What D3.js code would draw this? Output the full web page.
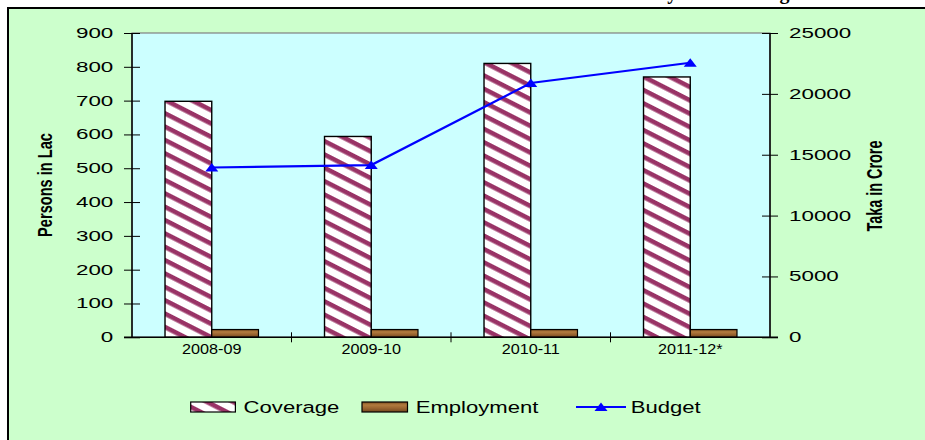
<!DOCTYPE html>
<html>
<head>
<meta charset="utf-8">
<script src="https://cdn.jsdelivr.net/npm/d3@7"></script>
<style>
  html, body { margin: 0; padding: 0; background: #ffffff; }
  svg { display: block; }
  text { font-family: "Liberation Sans", Arial, sans-serif; fill: #000; }
</style>
</head>
<body>
<svg id="chart" width="925" height="440"></svg>
<script>
// ---- data ----
const categories = ["2008-09", "2009-10", "2010-11", "2011-12*"];
const coverage = [698, 594, 810, 770];        // persons in lac
const employment = [23, 23, 23, 23];          // persons in lac
const budget = [13950, 14150, 20893, 22556];  // taka in crore
const leftTicks = [0, 100, 200, 300, 400, 500, 600, 700, 800, 900];
const rightTicks = [0, 5000, 10000, 15000, 20000, 25000];
const seriesNames = ["Coverage", "Employment", "Budget"];
const titleText = "Safety Net Coverage";

// ---- layout ----
const plot = { left: 132, right: 770, top: 33, bottom: 337.3 };
const svg = d3.select("#chart");

const x = d3.scaleBand().domain(categories).range([plot.left, plot.right]).padding(0);
const yL = d3.scaleLinear().domain([0, 900]).range([plot.bottom, plot.top]);
const yR = d3.scaleLinear().domain([0, 25000]).range([plot.bottom, plot.top]);
const barPad = x.bandwidth() * 0.207;
const barW = (x.bandwidth() - 2 * barPad) / 2;

// ---- defs: hatch pattern and wood-like gradient ----
const defs = svg.append("defs");
const hatch = defs.append("pattern")
  .attr("id", "hatch")
  .attr("patternUnits", "userSpaceOnUse")
  .attr("width", 12).attr("height", 11.9)
  .attr("patternTransform", "rotate(27)");
hatch.append("rect").attr("width", 12).attr("height", 11.9).attr("fill", "#ffffff");
hatch.append("rect").attr("y", 0).attr("width", 12).attr("height", 4.6).attr("fill", "#993366");

const wood = defs.append("linearGradient")
  .attr("id", "wood").attr("x1", 0).attr("y1", 0).attr("x2", 0).attr("y2", 1);
[["0%", "#7d4e22"], ["30%", "#b27b3e"], ["60%", "#9c6631"], ["100%", "#74471f"]]
  .forEach(([o, c]) => wood.append("stop").attr("offset", o).attr("stop-color", c));

// ---- chart frame ----
svg.append("rect")
  .attr("x", 8).attr("y", 8).attr("width", 940).attr("height", 450)
  .attr("fill", "#CCFFCC").attr("stroke", "#000").attr("stroke-width", 2);

// heading (mostly above the frame)
svg.append("text")
  .attr("x", 624).attr("y", -1.5)
  .style("font-family", "'Liberation Serif', 'Times New Roman', serif")
  .style("font-weight", "bold").style("font-size", "20px")
  .text(titleText);

// plot area
svg.append("rect")
  .attr("x", plot.left).attr("y", plot.top)
  .attr("width", plot.right - plot.left).attr("height", plot.bottom - plot.top)
  .attr("fill", "#CCFFFF").attr("stroke", "#808080").attr("stroke-width", 1.2);

// stretch helper for axis/legend text
function stretchText(sel, sx) {
  sel.each(function () {
    const t = d3.select(this);
    const tx = +t.attr("x") || 0;
    const ty = +t.attr("y") || 0;
    t.attr("x", 0).attr("y", 0)
      .attr("transform", `translate(${tx},${ty}) scale(${sx},1)`);
  });
}

// ---- bars ----
svg.append("g").selectAll("rect").data(categories).join("rect")
  .attr("x", d => x(d) + barPad)
  .attr("y", (d, i) => yL(coverage[i]))
  .attr("width", barW)
  .attr("height", (d, i) => yL(0) - yL(coverage[i]))
  .attr("fill", "url(#hatch)")
  .attr("stroke", "#000").attr("stroke-width", 1.4);

svg.append("g").selectAll("rect").data(categories).join("rect")
  .attr("x", d => x(d) + barPad + barW)
  .attr("y", (d, i) => yL(employment[i]))
  .attr("width", barW)
  .attr("height", (d, i) => yL(0) - yL(employment[i]))
  .attr("fill", "url(#wood)")
  .attr("stroke", "#000").attr("stroke-width", 1.2);

// ---- budget line ----
const cx = d => x(d) + x.bandwidth() / 2;
const line = d3.line().x((d, i) => cx(categories[i])).y(d => yR(d));
svg.append("path").datum(budget)
  .attr("d", line)
  .attr("fill", "none").attr("stroke", "#0000FF").attr("stroke-width", 2.2);

const tri = "M0,-4.5L6.5,4L-6.5,4Z";
svg.append("g").selectAll("path").data(budget).join("path")
  .attr("d", tri)
  .attr("transform", (d, i) => `translate(${cx(categories[i])},${yR(d)})`)
  .attr("fill", "#0000FF");

// ---- axes ----
const axisL = svg.append("g")
  .attr("transform", `translate(${plot.left},0)`)
  .call(d3.axisLeft(yL).tickValues(leftTicks).tickSize(8).tickPadding(10.7).tickFormat(d3.format("d")));
const axisR = svg.append("g")
  .attr("transform", `translate(${plot.right},0)`)
  .call(d3.axisRight(yR).tickValues(rightTicks).tickSize(8).tickPadding(11).tickFormat(d3.format("d")));
const axisB = svg.append("g")
  .attr("transform", `translate(0,${plot.bottom})`)
  .call(d3.axisBottom(x).tickSize(0).tickPadding(12));

[axisL, axisR, axisB].forEach(a => {
  a.select(".domain").attr("stroke", "#000").attr("stroke-width", 1.5);
  a.selectAll("text").style("font-size", "14px").style("font-family", "'Liberation Sans', Arial, sans-serif");
});
axisB.selectAll("text").style("font-size", "15px");
// cross-style ticks on the value axes
axisL.selectAll(".tick line").attr("x1", 8).attr("x2", -8).attr("stroke", "#000");
axisR.selectAll(".tick line").attr("x1", -8).attr("x2", 8).attr("stroke", "#000");
axisL.selectAll(".domain").attr("d", `M0,${plot.top}V${plot.bottom}`);
axisR.selectAll(".domain").attr("d", `M0,${plot.top}V${plot.bottom}`);
axisB.selectAll(".domain").attr("d", `M${plot.left - 8},0H${plot.right + 8}`);
stretchText(axisL.selectAll("text"), 1.6);
stretchText(axisR.selectAll("text"), 1.6);
axisB.selectAll("text").attr("dy", "0.32em");
stretchText(axisB.selectAll("text"), 1.08);

// category separators on the bottom axis
svg.append("g").selectAll("line").data(categories.slice(1)).join("line")
  .attr("x1", d => x(d)).attr("x2", d => x(d))
  .attr("y1", plot.bottom - 5).attr("y2", plot.bottom + 5)
  .attr("stroke", "#000").attr("stroke-width", 1);

// ---- axis titles ----
svg.append("text")
  .attr("transform", `translate(52,185) scale(1.35,1) rotate(-90)`)
  .attr("text-anchor", "middle")
  .style("font-weight", "bold").style("font-size", "14.6px")
  .text("Persons in Lac");
svg.append("text")
  .attr("transform", `translate(882,186) scale(1.5,1) rotate(-90)`)
  .attr("text-anchor", "middle")
  .style("font-weight", "bold").style("font-size", "14.4px")
  .text("Taka in Crore");

// ---- legend ----
const lg = svg.append("g");
const legY = 407;
lg.append("rect").attr("x", 190.7).attr("y", legY - 5).attr("width", 44.7).attr("height", 10)
  .attr("fill", "url(#hatch)").attr("stroke", "#000").attr("stroke-width", 1.2);
lg.append("rect").attr("x", 362).attr("y", legY - 5).attr("width", 45.5).attr("height", 10)
  .attr("fill", "url(#wood)").attr("stroke", "#000").attr("stroke-width", 1.2);
lg.append("line").attr("x1", 576).attr("x2", 626).attr("y1", legY).attr("y2", legY)
  .attr("stroke", "#0000FF").attr("stroke-width", 2.2);
lg.append("path").attr("d", tri).attr("transform", `translate(601,${legY})`).attr("fill", "#0000FF");

const legText = lg.selectAll("text").data(seriesNames).join("text")
  .attr("x", (d, i) => [243.6, 415.7, 630.7][i])
  .attr("y", legY + 6)
  .style("font-size", "17px")
  .text(d => d);
stretchText(legText, 1.3);
</script>
</body>
</html>
